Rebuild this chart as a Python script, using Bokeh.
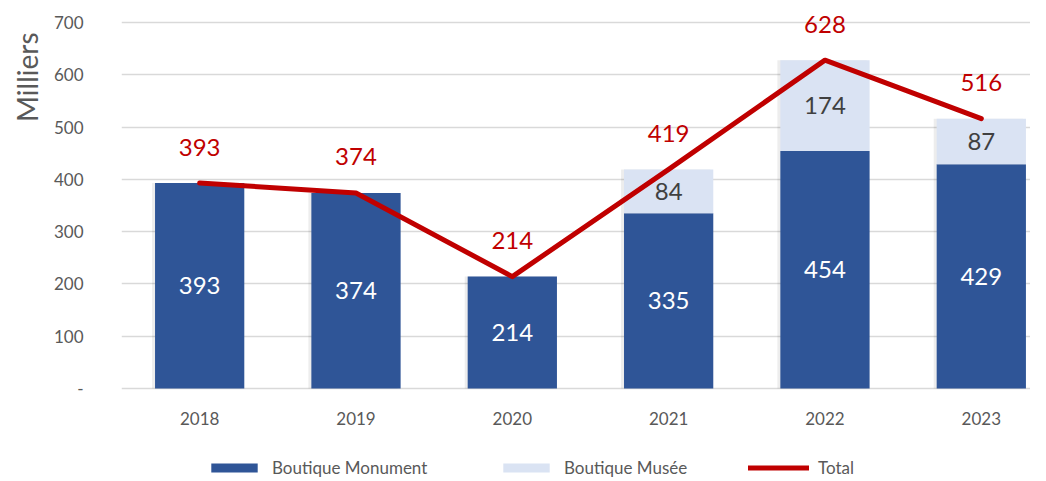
from bokeh.plotting import figure
from bokeh.models import ColumnDataSource, Range1d, FixedTicker, Legend, Title
from bokeh.transform import dodge
from bokeh.core.properties import value
from bokeh.embed import file_html
from bokeh.resources import INLINE

years = ["2018", "2019", "2020", "2021", "2022", "2023"]
monument = [393, 374, 214, 335, 454, 429]
musee = [0, 0, 0, 84, 174, 87]
total = [393, 374, 214, 419, 628, 516]

FONT = "Lato"
xs = list(range(len(years)))
src = ColumnDataSource(dict(
    x=xs, zero=[0] * len(xs), years=years,
    monument=monument, musee=musee, total=total,
    mid_m=[m / 2 for m in monument],
    mid_u=[m + u / 2 for m, u in zip(monument, musee)],
    lab_m=[str(m) for m in monument],
    lab_u=[str(u) if u > 0 else "" for u in musee],
    lab_t=[str(t) for t in total],
))

W, H, LEFT = 1030, 478, 120
PX = 366 / 700.0
y_top = 700 + 14 / PX
y_bot = -90 / PX
XPX = 156.5
x_end = (W - LEFT) / XPX - 0.5

p = figure(width=W, height=H, output_backend="svg", toolbar_location=None,
           x_range=Range1d(-0.5, x_end), y_range=Range1d(y_bot, y_top),
           min_border_left=LEFT, min_border_right=0, min_border_top=8,
           min_border_bottom=0)
p.outline_line_color = None
p.background_fill_color = "white"

# subtle bar shadow
p.vbar(x=dodge("x", -3 / XPX, range=p.x_range), top="total", bottom=0,
       width=0.571, source=src, color="#000000", alpha=0.07, line_color=None)

bars = p.vbar_stack(["monument", "musee"], x="x", width=0.571, source=src,
                    color=["#2F5597", "#DAE3F3"], line_color=None)

p.text(x="x", y="mid_m", text="lab_m", source=src, text_align="center",
       text_baseline="middle", text_color="white", text_font_size="24px",
       text_font=value(FONT))
p.text(x="x", y="mid_u", text="lab_u", source=src, text_align="center",
       text_baseline="middle", text_color="#404040", text_font_size="24px",
       text_font=value(FONT))

ln = p.line(x="x", y="total", source=src, line_width=5, line_color="#C00000",
            line_cap="round", line_join="round")
p.text(x="x", y="total", text="lab_t", source=src, text_align="center",
       text_baseline="middle", y_offset=-36, text_color="#C00000",
       text_font_size="24px", text_font=value(FONT))

# category labels (x axis)
p.text(x="x", y="zero", text="years", source=src, text_align="center",
       text_baseline="middle", y_offset=30, text_color="#595959",
       text_font_size="17px", text_font=value(FONT))

p.xaxis.visible = False
p.xgrid.grid_line_color = None

yt = [0, 100, 200, 300, 400, 500, 600, 700]
p.yaxis.ticker = FixedTicker(ticks=yt)
p.yaxis.major_label_overrides = {0: "-"}
p.yaxis.axis_line_color = None
p.yaxis.major_tick_line_color = None
p.yaxis.minor_tick_line_color = None
p.yaxis.major_label_text_font = FONT
p.yaxis.major_label_text_font_size = "17px"
p.yaxis.major_label_text_color = "#595959"
p.yaxis.major_label_standoff = 32
p.ygrid.grid_line_color = "#D9D9D9"
p.ygrid.grid_line_width = 1.5
p.ygrid.ticker = FixedTicker(ticks=yt)

ytitle = Title(text="Milliers", align="right", offset=24, standoff=14,
               text_font=FONT, text_font_size="28px", text_font_style="normal",
               text_color="#595959")
p.add_layout(ytitle, "left")

leg_items = [("Boutique Monument", bars[0], 84, 58),
             ("Boutique Musée", bars[1], 376, 58),
             ("Total", ln, 627, 61)]
for label, r, xloc, gw in leg_items:
    lg = Legend(items=[(label, [r])], orientation="horizontal",
                location=(xloc, 0), glyph_width=gw, glyph_height=11,
                label_standoff=9, padding=0, margin=0, spacing=0,
                border_line_color=None, background_fill_alpha=0,
                label_text_font=FONT, label_text_font_size="17px",
                label_text_color="#595959", label_height=18)
    p.add_layout(lg, "center")

open("out.html", "w").write(file_html(p, INLINE))
